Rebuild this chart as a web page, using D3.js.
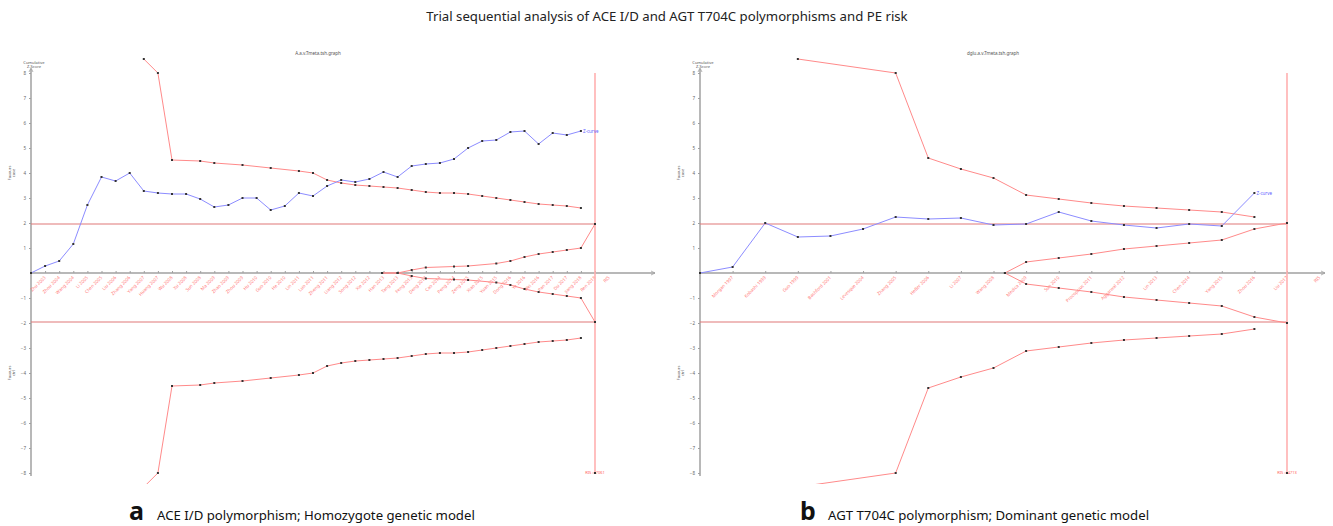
<!DOCTYPE html>
<html>
<head>
<meta charset="utf-8">
<script src="https://cdn.jsdelivr.net/npm/d3@7/dist/d3.min.js"></script>
<style>
  html, body { margin: 0; padding: 0; background: #fff; }
  svg { display: block; }
</style>
</head>
<body>
<svg id="chart" width="1333" height="526"></svg>
<script>
// ---------------- DATA ----------------
const titleText = "Trial sequential analysis of ACE I/D and AGT T704C polymorphisms and PE risk";

// Panel a: ACE I/D, homozygote model (40 cumulative studies)
const studiesA = [
  "Zhu 2003","Zhou 2004","Wang 2004","Li 2005","Chen 2005","Liu 2006","Zhang 2006","Yang 2007",
  "Huang 2007","Wu 2008","Xu 2008","Sun 2008","Ma 2009","Zhao 2009","Zhou 2009","Hu 2010",
  "Guo 2010","He 2010","Lin 2011","Luo 2011","Zheng 2011","Liang 2012","Song 2012","Xie 2012",
  "Han 2013","Tang 2013","Feng 2013","Deng 2014","Cao 2014","Peng 2014","Zeng 2015","Xiao 2015",
  "Yuan 2015","Dong 2016","Ye 2016","Wei 2016","Pan 2017","Du 2017","Jiang 2018","Ren 2018"
];
const zCurveA = [0,0.28,0.48,1.16,2.72,3.84,3.68,4.0,3.28,3.2,3.16,3.16,2.96,2.64,2.72,3.0,
  3.0,2.52,2.68,3.2,3.08,3.48,3.72,3.64,3.76,4.04,3.84,4.28,4.36,4.4,4.56,5.0,5.28,5.32,5.64,5.68,5.16,5.6,5.52,5.68];
const boundIdxA  = [8,9,10,12,13,15,17,19,20,21,22,23,24,25,26,27,28,29,30,31,32,33,34,35,36,37,38,39];
const boundValA  = [8.56,8.0,4.52,4.48,4.4,4.32,4.2,4.08,4.0,3.72,3.6,3.52,3.48,3.44,3.4,3.32,3.24,3.2,3.2,3.16,3.08,3.0,2.92,2.84,2.76,2.72,2.68,2.6];
const innerIdxA  = [24.9,26,27,28,30,31,33,34,35,36,37,38,39,40];
const innerValA  = [0,0,0.12,0.22,0.26,0.28,0.38,0.48,0.64,0.76,0.84,0.92,1.0,1.96];
const risA = 40;

// Panel b: AGT T704C, dominant model (18 cumulative studies)
const studiesB = [
  "Morgan 1997","Kobashi 1999","Guo 1999","Bashford 2001","Levesque 2004","Zhang 2005",
  "Hefler 2006","Li 2007","Wang 2008","Medica 2009","Sun 2010","Procopciuc 2011",
  "Aggarwal 2012","Lin 2013","Chen 2014","Yang 2015","Zhou 2016","Liu 2017"
];
const zCurveB = [0,0.24,2.0,1.44,1.48,1.76,2.24,2.16,2.2,1.92,1.96,2.44,2.08,1.92,1.8,1.96,1.88,3.2];
const boundIdxB  = [3,6,7,8,9,10,11,12,13,14,15,16,17];
const boundValB  = [8.56,8.0,4.6,4.16,3.8,3.12,2.96,2.8,2.68,2.6,2.52,2.44,2.24];
const innerIdxB  = [9.35,10,11,12,13,14,15,16,17,18];
const innerValB  = [0,0.44,0.6,0.76,0.96,1.08,1.2,1.32,1.76,2.0];
const risB = 18;

const yTicks = [-8,-7,-6,-5,-4,-3,-2,-1,1,2,3,4,5,6,7,8];
const conventional = 1.96;

// ---------------- DRAW ----------------
const svg = d3.select("#chart");
const FONT = "'Noto Sans', 'Open Sans', Arial, sans-serif";

svg.append("text")
  .attr("x", 667).attr("y", 21)
  .attr("text-anchor", "middle")
  .attr("font-family", FONT).attr("font-size", 13.2).attr("fill", "#222")
  .text(titleText);

svg.append("defs").append("clipPath").attr("id", "clipB")
  .append("rect").attr("x", 0).attr("y", 0).attr("width", 1333).attr("height", 484);

function panel(cfg) {
  const g = svg.append("g");
  const x = d3.scaleLinear().domain([0, cfg.ris]).range([cfg.x0, cfg.x1]);
  const y = d3.scaleLinear().domain([-8, 8]).range([473, 73]);
  const red = "#ff8a8a", grey = "#a0a0a0";

  // subtitle
  g.append("text").attr("x", cfg.subX).attr("y", 55).attr("text-anchor", "middle")
    .attr("font-family", FONT).attr("font-size", 4.5).attr("fill", "#555").text(cfg.sub);

  // y axis
  const ya = g.append("g").attr("transform", `translate(${cfg.x0},0)`)
    .call(d3.axisLeft(y).tickValues(yTicks).tickSize(2).tickFormat(d3.format("d")));
  ya.select(".domain").remove();
  ya.selectAll(".tick line").attr("stroke", grey);
  ya.selectAll(".tick text").attr("font-size", 4.5).attr("fill", "#666").attr("font-family", FONT);
  g.append("line").attr("x1", cfg.x0).attr("x2", cfg.x0).attr("y1", 476).attr("y2", 69)
    .attr("stroke", grey).attr("stroke-width", 1.5);
  g.append("path").attr("d", `M${cfg.x0-2},${72} L${cfg.x0},${68} L${cfg.x0+2},${72}`)
    .attr("fill", "none").attr("stroke", grey).attr("stroke-width", 0.8);
  g.append("text").attr("x", cfg.x0 + 3).attr("y", 64).attr("text-anchor", "middle")
    .attr("font-family", FONT).attr("font-size", 4).attr("fill", "#555").text("Cumulative");
  g.append("text").attr("x", cfg.x0 + 3).attr("y", 68).attr("text-anchor", "middle")
    .attr("font-family", FONT).attr("font-size", 4).attr("fill", "#555").text("Z-Score");
  [[y(4), "Favours"], [y(-4), "Favours"]].forEach(([yy, t], i) => {
    const tg = g.append("g").attr("transform", `translate(${cfg.x0 - 20},${yy}) rotate(-90)`);
    tg.append("text").attr("text-anchor", "middle").attr("font-family", FONT)
      .attr("font-size", 4).attr("fill", "#555").text(t);
    tg.append("text").attr("y", 4).attr("text-anchor", "middle").attr("font-family", FONT)
      .attr("font-size", 4).attr("fill", "#555").text(i === 0 ? "case" : "ctrl");
  });

  // x axis
  const xa = g.append("g").attr("transform", `translate(0,${y(0)})`)
    .call(d3.axisBottom(x).tickValues(d3.range(1, cfg.ris + 1)).tickSize(-2).tickFormat(""));
  xa.select(".domain").remove();
  xa.selectAll(".tick line").attr("stroke", grey);
  g.append("line").attr("x1", cfg.x0).attr("x2", cfg.axEnd).attr("y1", y(0)).attr("y2", y(0))
    .attr("stroke", grey).attr("stroke-width", 1.3);
  g.append("path").attr("d", `M${cfg.axEnd-4},${y(0)-2} L${cfg.axEnd},${y(0)} L${cfg.axEnd-4},${y(0)+2}`)
    .attr("fill", "none").attr("stroke", grey).attr("stroke-width", 0.8);
  const labels = cfg.studies.concat(["RIS"]);
  g.selectAll(".xl").data(labels).enter().append("text")
    .attr("transform", (d, i) => `translate(${x(i + 1) + 1},${y(0) + 5}) rotate(-45)`)
    .attr("text-anchor", "end").attr("font-family", FONT).attr("font-size", 4.5)
    .attr("fill", "#ff7a7a").text(d => d);

  // conventional lines
  [conventional, -conventional].forEach(v => {
    g.append("line").attr("x1", cfg.x0).attr("x2", x(cfg.ris)).attr("y1", y(v)).attr("y2", y(v))
      .attr("stroke", "#e07878").attr("stroke-width", 1.2);
  });
  // required information size line
  g.append("line").attr("x1", x(cfg.ris)).attr("x2", x(cfg.ris)).attr("y1", y(8)).attr("y2", y(-8))
    .attr("stroke", "#ffb0b0").attr("stroke-width", 1.6);
  g.append("text").attr("x", x(cfg.ris)).attr("y", 474).attr("text-anchor", "middle")
    .attr("font-family", FONT).attr("font-size", 4).attr("fill", "#ff6060").text(cfg.risLabel);
  g.append("rect").attr("x", x(cfg.ris) - 1).attr("y", y(-8) - 1).attr("width", 2).attr("height", 2).attr("fill", "#333");

  const line = d3.line().x(d => x(d[0])).y(d => y(d[1]));
  const dots = (pts) => g.selectAll(null).data(pts).enter().append("rect")
    .attr("x", d => x(d[0]) - 1).attr("y", d => y(d[1]) - 1).attr("width", 2).attr("height", 2).attr("fill", "#333");

  // monitoring boundaries
  const up = cfg.bIdx.map((d, i) => [d, cfg.bVal[i]]);
  const lo = cfg.bIdx.map((d, i) => [d, -cfg.bVal[i]]);
  g.append("path").attr("d", line(up)).attr("fill", "none").attr("stroke", red).attr("stroke-width", 1);
  g.append("path").attr("d", line(lo)).attr("fill", "none").attr("stroke", red).attr("stroke-width", 1)
    .attr("clip-path", "url(#clipB)");
  dots(up); dots(lo.filter(d => y(d[1]) < 484));

  // futility boundaries
  const iu = cfg.iIdx.map((d, i) => [d, cfg.iVal[i]]);
  const il = cfg.iIdx.map((d, i) => [d, -cfg.iVal[i]]);
  g.append("path").attr("d", line(iu)).attr("fill", "none").attr("stroke", red).attr("stroke-width", 1);
  g.append("path").attr("d", line(il)).attr("fill", "none").attr("stroke", red).attr("stroke-width", 1);
  dots(iu); dots(il);

  // z-curve
  const zc = cfg.z.map((v, i) => [i, v]);
  g.append("path").attr("d", line(zc)).attr("fill", "none").attr("stroke", "#8c8cff").attr("stroke-width", 1);
  dots(zc);
  const last = zc[zc.length - 1];
  g.append("text").attr("x", x(last[0]) + 2).attr("y", y(last[1]) + 1.5)
    .attr("font-family", FONT).attr("font-size", 4.5).attr("fill", "#6060ff").text("Z-curve");

  // caption
  svg.append("text").attr("x", cfg.capX).attr("y", 520).attr("font-family", FONT)
    .attr("font-size", 25).attr("font-weight", "bold").attr("fill", "#111").text(cfg.letter);
  svg.append("text").attr("x", cfg.capX + 28).attr("y", 520).attr("font-family", FONT)
    .attr("font-size", 13.2).attr("fill", "#111").text(cfg.caption);
}

panel({ x0: 31, x1: 595, axEnd: 655, ris: risA, studies: studiesA, z: zCurveA,
  bIdx: boundIdxA, bVal: boundValA, iIdx: innerIdxA, iVal: innerValA,
  sub: "A.a.v.Tmeta.tsh.graph", subX: 318, risLabel: "RIS = 7061",
  letter: "a", capX: 129, caption: "ACE I/D polymorphism; Homozygote genetic model" });

panel({ x0: 700, x1: 1287, axEnd: 1325, ris: risB, studies: studiesB, z: zCurveB,
  bIdx: boundIdxB, bVal: boundValB, iIdx: innerIdxB, iVal: innerValB,
  sub: "dglu.a.v.Tmeta.tsh.graph", subX: 993, risLabel: "RIS = 4713",
  letter: "b", capX: 800, caption: "AGT T704C polymorphism; Dominant genetic model" });
</script>
</body>
</html>
